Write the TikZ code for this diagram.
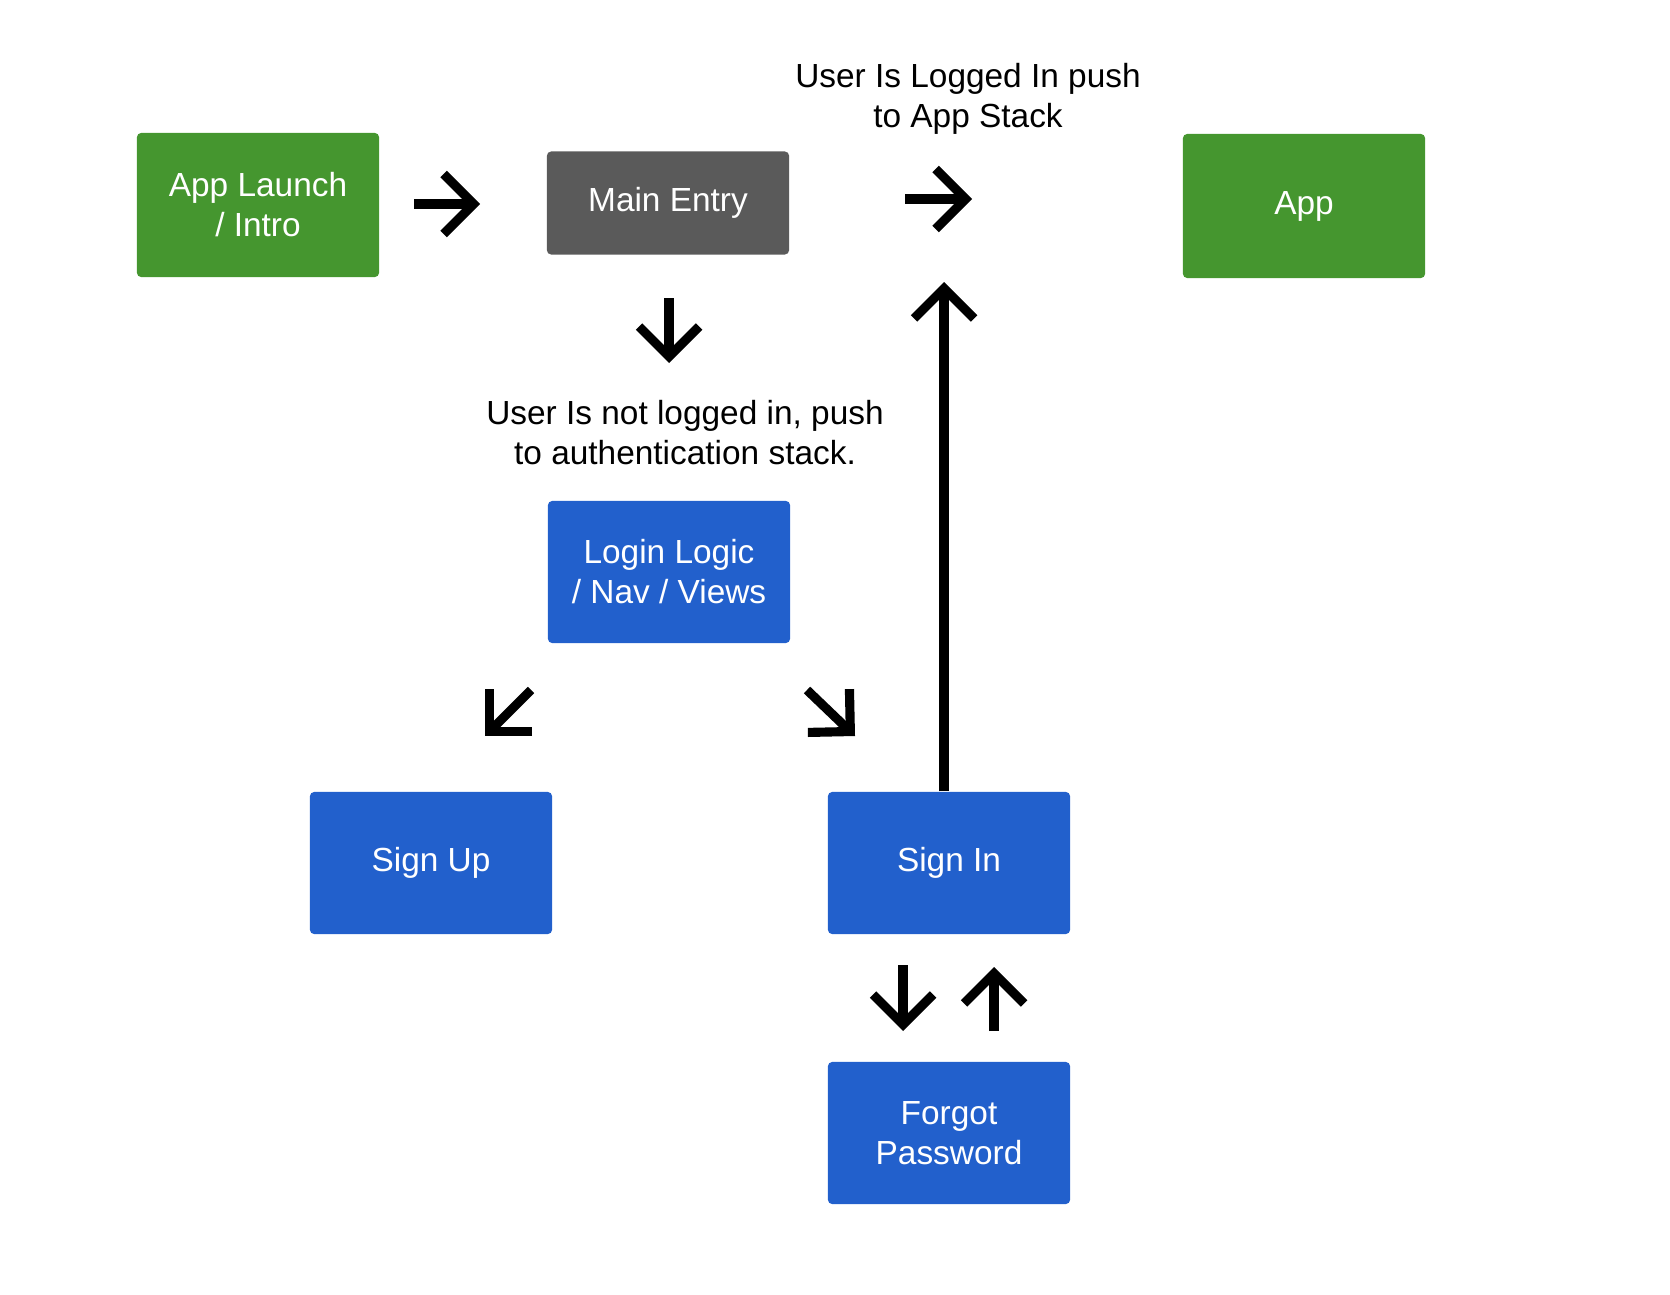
\documentclass[tikz,border=0pt]{standalone}
\usepackage{fontspec}
\setmainfont{Liberation Sans}
\usetikzlibrary{arrows.meta}

\definecolor{launchgreen}{HTML}{45962F}
\definecolor{entrygray}{HTML}{5A5A5A}
\definecolor{authblue}{HTML}{2260CC}

\tikzset{
  box/.style={rounded corners=1.2pt, text=white, minimum width=2.42cm, minimum height=1.42cm,
    align=center, inner sep=0pt, font=\fontsize{9.5}{11.4}\selectfont},
  greenbox/.style={box, fill=launchgreen, minimum height=1.44cm},
  graybox/.style={box, fill=entrygray, minimum height=1.03cm},
  bluebox/.style={box, fill=authblue},
  note/.style={align=center, inner sep=0pt, font=\fontsize{9.5}{11.4}\selectfont},
  flow/.style={line width=2.6pt, -{Straight Barb[length=0.3cm,width=0.6cm]}}
}

\begin{document}
\begin{tikzpicture}[x=0.01cm, y=-0.01cm]
\useasboundingbox (0,0) rectangle (1670,1294);

% boxes
\node[greenbox] (launch) at (258,205) {App Launch\\/ Intro};
\node[graybox] (entry) at (668,203) {Main Entry};
\node[greenbox] (app) at (1304,206) {App};
\node[bluebox] (login) at (669,572) {Login Logic\\/ Nav / Views};
\node[bluebox] (signup) at (431,863) {Sign Up};
\node[bluebox] (signin) at (949,863) {Sign In};
\node[bluebox] (forgot) at (949,1133) {Forgot\\Password};

% notes
\node[note] (loggedin) at (968,99) {User Is Logged In push\\to App Stack};
\node[note] (notlogged) at (685,433) {User Is not logged in, push\\to authentication stack.};

% arrow ends
\coordinate (r1s) at (414,204); \coordinate (r1e) at (480,204);
\coordinate (r2s) at (905,199); \coordinate (r2e) at (972,199);
\coordinate (d1s) at (669,298); \coordinate (d1e) at (669,363);
\coordinate (sws) at (531,690); \coordinate (swe) at (485,736);
\coordinate (ses) at (807,690); \coordinate (see) at (855,736);
\coordinate (d2s) at (903,965); \coordinate (d2e) at (903,1031);
\coordinate (u2s) at (994,1031); \coordinate (u2e) at (994,967);
\coordinate (uptip) at (944,282);

\foreach \s/\e in {r1s/r1e, r2s/r2e, d1s/d1e, sws/swe, ses/see, d2s/d2e, u2s/u2e}
  \draw[flow] (\s) -- (\e);
\draw[flow] (signin.north -| uptip) -- (uptip);
\end{tikzpicture}
\end{document}
